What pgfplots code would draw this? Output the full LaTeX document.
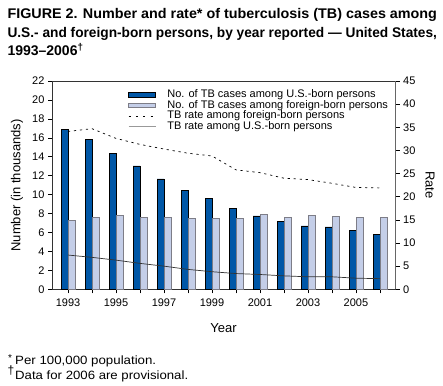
\documentclass[border=0pt]{standalone}
\usepackage{fontspec}
\setmainfont{Liberation Sans}
\usepackage{graphicx}
\usepackage{pgfplots}
\pgfplotsset{compat=1.18}
\definecolor{darkb}{RGB}{0,87,167}
\definecolor{lightb}{RGB}{196,206,232}
\definecolor{lbord}{RGB}{125,125,135}
\begin{document}
\begin{tikzpicture}[x=1pt,y=1pt]
\useasboundingbox (0,0) rectangle (443,385);
\node[anchor=base west, inner sep=0, font=\fontsize{14}{16}\selectfont\bfseries] at (7.3,366) {\resizebox{429.5pt}{\height}{FIGURE 2. Number and rate* of tuberculosis (TB) cases among}};
\node[anchor=base west, inner sep=0, font=\fontsize{14}{16}\selectfont\bfseries] at (7.3,347.3) {\resizebox{429.5pt}{\height}{U.S.- and foreign-born persons, by year reported --- United States,}};
\node[anchor=base west, inner sep=0, font=\fontsize{14}{16}\selectfont\bfseries] at (7.3,329.3) {1993--2006\textsuperscript{\dag}};
\begin{axis}[
  at={(52pt,95.7pt)}, anchor=south west, scale only axis,
  width=343.7pt, height=208.3pt,
  xmin=1992.333, xmax=2006.654, ymin=0, ymax=22,
  ytick={0,2,...,22},
  xtick={1993,...,2006},
  xticklabels={1993,,1995,,1997,,1999,,2001,,2003,,2005,},
  tick pos=left, tick align=outside, major tick length=4pt,
  tick style={black, line width=0.5pt},
  axis line style={black!80, line width=0.5pt},
  ticklabel style={font=\fontsize{11}{12}\selectfont},
  xticklabel style={yshift=-2pt},
  /pgf/number format/assume math mode=true,
  ybar, bar width=7pt,
]
\addplot[fill=darkb, draw=black, line width=0.5pt, bar shift=-3.5pt] coordinates {
(1993,16.93) (1994,15.85) (1995,14.37) (1996,13.03) (1997,11.65) (1998,10.41) (1999,9.61)
(2000,8.55) (2001,7.76) (2002,7.16) (2003,6.71) (2004,6.58) (2005,6.22) (2006,5.84)};
\addplot[fill=lightb, draw=lbord, line width=0.8pt, bar shift=3.5pt] coordinates {
(1993,7.26) (1994,7.63) (1995,7.84) (1996,7.56) (1997,7.63) (1998,7.48) (1999,7.48)
(2000,7.46) (2001,7.86) (2002,7.56) (2003,7.77) (2004,7.67) (2005,7.56) (2006,7.63)};
\end{axis}
\begin{axis}[
  at={(52pt,95.7pt)}, anchor=south west, scale only axis,
  width=343.7pt, height=208.3pt,
  xmin=1992.333, xmax=2006.654, ymin=0, ymax=45,
  ytick={0,5,...,45},
  axis x line=none, axis y line*=right,
  tick align=outside, major tick length=4pt,
  tick style={black, line width=0.5pt},
  axis line style={black!60, line width=0.5pt},
  ticklabel style={font=\fontsize{11}{12}\selectfont},
  /pgf/number format/assume math mode=true,
  legend style={draw=none, fill=none, at={(0.2211,0.960)}, anchor=north west,
    inner sep=0pt, outer sep=0pt, font=\fontsize{11}{11}\selectfont,
    nodes={inner sep=0pt, text height=8pt, text depth=2.7pt},
    /tikz/column sep=11pt},
  legend cell align=left,
]
\addlegendimage{legend image code/.code={\draw[fill=darkb, draw=black, line width=0.5pt] (0pt,-2.2pt) rectangle (27pt,2.2pt);}}
\addlegendentry{No. of TB cases among U.S.-born persons}
\addlegendimage{legend image code/.code={\draw[fill=lightb, draw=lbord, line width=0.6pt] (0pt,-2.2pt) rectangle (27pt,2.2pt);}}
\addlegendentry{No. of TB cases among foreign-born persons}
\addlegendimage{legend image code/.code={\draw[black, line width=0.7pt, dash pattern=on 2pt off 5.3pt] (0pt,0pt) -- (27pt,0pt);}}
\addlegendentry{TB rate among foreign-born persons}
\addlegendimage{legend image code/.code={\draw[black!40, line width=1.4pt] (0pt,0pt) -- (27pt,0pt);}}
\addlegendentry{TB rate among U.S.-born persons}
\addplot[forget plot, black, line width=0.7pt, dash pattern=on 2.2pt off 3.8pt] coordinates {
(1993,34.1) (1994,34.7) (1995,32.6) (1996,31.3) (1997,30.3) (1998,29.4) (1999,28.8)
(2000,25.8) (2001,25.2) (2002,24.0) (2003,23.7) (2004,22.9) (2005,22.0) (2006,21.9)};
\addplot[forget plot, black!80, line width=0.7pt] coordinates {
(1993,7.4) (1994,6.9) (1995,6.3) (1996,5.6) (1997,5.0) (1998,4.3) (1999,3.8)
(2000,3.4) (2001,3.2) (2002,2.9) (2003,2.7) (2004,2.7) (2005,2.4) (2006,2.3)};
\end{axis}
\node[rotate=90, font=\fontsize{13}{14}\selectfont] at (17,199.5) {Number (in thousands)};
\node[rotate=-90, font=\fontsize{13}{14}\selectfont] at (430,200) {Rate};
\node[font=\fontsize{13}{14}\selectfont] at (223.5,57) {Year};
\node[anchor=base west, inner sep=0, font=\fontsize{12}{13}\selectfont] at (15,21) {\resizebox{141pt}{\height}{Per 100,000 population.}};
\node[anchor=base west, inner sep=0, font=\fontsize{12}{13}\selectfont] at (15,5.7) {\resizebox{173pt}{\height}{Data for 2006 are provisional.}};
\node[anchor=base west, inner sep=0, font=\fontsize{10}{11}\selectfont] at (8,24) {*};
\node[anchor=base west, inner sep=0, font=\fontsize{12}{13}\selectfont] at (7.5,11) {\dag};
\end{tikzpicture}
\end{document}
